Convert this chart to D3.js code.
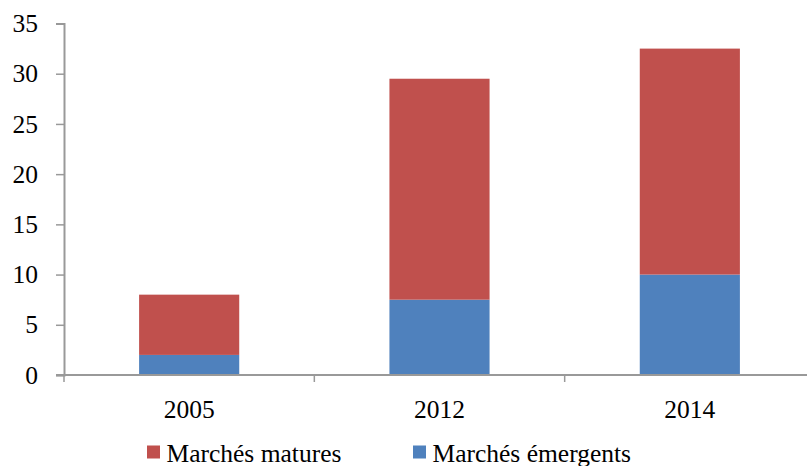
<!DOCTYPE html>
<html><head><meta charset="utf-8">
<script src="https://cdn.jsdelivr.net/npm/d3@7"></script>
<style>body{margin:0;background:#fff}svg{display:block}</style>
</head><body>
<svg id="c" width="807" height="466"></svg>
<script>
const categories = ["2005", "2012", "2014"];
const emergents = [2, 7.5, 10];
const matures = [6, 22, 22.5];
const seriesNames = ["Marchés matures", "Marchés émergents"];
const yTicks = [0, 5, 10, 15, 20, 25, 30, 35];

const svg = d3.select("#c");
const font = "'Liberation Serif', serif";
const fs = 25.5;
const x0 = 64, x1 = 815, yTop = 23.5, yBot = 375;
const x = d3.scaleBand().domain(categories).range([x0, x1]).paddingInner(0.6).paddingOuter(0.3);
const y = d3.scaleLinear().domain([0, 35]).range([yBot, yTop]);
const colors = {em: "#4f81bd", ma: "#c0504d"};

const data = categories.map((c, i) => ({cat: c, em: emergents[i], ma: matures[i]}));
const stack = d3.stack().keys(["em", "ma"])(data);
svg.append("g").selectAll("g").data(stack).join("g")
  .attr("fill", d => colors[d.key])
  .selectAll("rect").data(d => d).join("rect")
  .attr("x", d => x(d.data.cat)).attr("width", x.bandwidth())
  .attr("y", d => y(d[1])).attr("height", d => y(d[0]) - y(d[1]));

// y axis
const ya = svg.append("g").attr("transform", `translate(${x0},0)`)
  .call(d3.axisLeft(y).tickValues(yTicks).tickSize(8).tickPadding(18));
ya.select(".domain").attr("stroke", "#999").attr("stroke-width", 2);
ya.selectAll(".tick line").attr("stroke", "#999").attr("stroke-width", 1.5);
ya.selectAll("text").attr("font-family", font).attr("font-size", fs).attr("fill", "#000");

// x axis
const xa = svg.append("g").attr("transform", `translate(0,${yBot})`);
xa.append("line").attr("x1", x0 - 8).attr("x2", 807).attr("stroke", "#999").attr("stroke-width", 2);
const bounds = [0, 1, 2, 3].map(i => x0 + i * (x1 - x0) / 3);
xa.selectAll(".xt").data(bounds).join("line")
  .attr("x1", d => d).attr("x2", d => d).attr("y1", 0).attr("y2", 7)
  .attr("stroke", "#999").attr("stroke-width", 1.5);
xa.selectAll(".xl").data(categories).join("text")
  .attr("x", d => x(d) + x.bandwidth() / 2).attr("y", 43)
  .attr("text-anchor", "middle").attr("font-family", font).attr("font-size", fs).text(d => d);

// legend
const leg = [{name: seriesNames[0], color: colors.ma, x: 147}, {name: seriesNames[1], color: colors.em, x: 413}];
const lg = svg.append("g").selectAll("g").data(leg).join("g").attr("transform", d => `translate(${d.x},0)`);
lg.append("rect").attr("y", 445.5).attr("width", 13).attr("height", 13).attr("fill", d => d.color);
lg.append("text").attr("x", 19.5).attr("y", 461.5).attr("font-family", font).attr("font-size", fs).text(d => d.name);
</script>
</body></html>
